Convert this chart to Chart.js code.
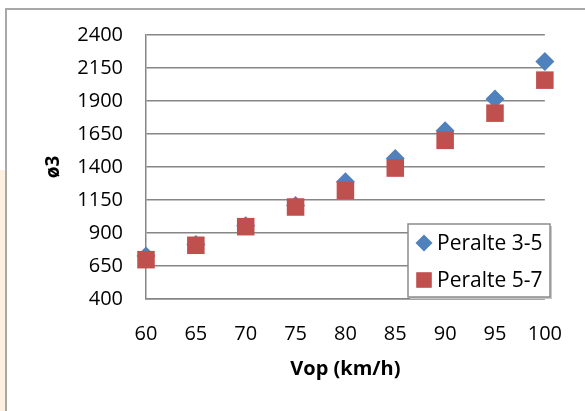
<!DOCTYPE html>
<html>
<head>
<meta charset="utf-8">
<script src="https://cdn.jsdelivr.net/npm/chart.js@4/dist/chart.umd.min.js"></script>
<style>
  html, body { margin: 0; padding: 0; background: #ffffff; }
  #wrap { width: 585px; height: 411px; position: relative; }
</style>
</head>
<body>
<div id="wrap"><canvas id="c" width="585" height="411"></canvas></div>
<script>
// Operating speed (km/h) and the two superelevation series
const speeds = [60, 65, 70, 75, 80, 85, 90, 95, 100];
const peralte35 = [726, 813, 955, 1108, 1288, 1464, 1675, 1915, 2200];
const peralte57 = [698, 807, 948, 1097, 1222, 1392, 1602, 1808, 2058];
const seriesNames = ['Peralte 3-5', 'Peralte 5-7'];
const xTitle = 'Vop (km/h)';
const yTitle = 'ø3';

const BLUE = '#4F81BD';
const RED = '#C0504D';
const GRID = '#868686';
const FONT = "'Open Sans', 'Liberation Sans', sans-serif";

const toPoints = (vals) => speeds.map((s, i) => ({ x: s, y: vals[i] }));

// Sheet-like frame around the chart object
const framePlugin = {
  id: 'frame',
  beforeDraw(chart) {
    const ctx = chart.ctx;
    ctx.save();
    ctx.fillStyle = '#ffffff';
    ctx.fillRect(0, 0, chart.width, chart.height);
    ctx.fillStyle = '#fdf1e1';
    ctx.fillRect(0, 170, 5, chart.height - 170);
    ctx.strokeStyle = '#a8a8a8';
    ctx.lineWidth = 2;
    ctx.beginPath();
    ctx.moveTo(6, chart.height);
    ctx.lineTo(6, 9);
    ctx.lineTo(chart.width, 9);
    ctx.stroke();
    ctx.restore();
  }
};

// Boxed legend sitting over the lower right of the plot
const boxLegend = {
  id: 'boxLegend',
  afterDraw(chart) {
    const ctx = chart.ctx;
    const x0 = 408, y0 = 224, w = 142, h = 73;
    ctx.save();
    // soft drop shadow on the right and bottom edges
    ctx.fillStyle = '#c8c8c8';
    ctx.fillRect(x0 + 2, y0 + h, w, 2);
    ctx.fillRect(x0 + w, y0 + 2, 2, h);
    ctx.fillStyle = '#ffffff';
    ctx.fillRect(x0, y0, w, h);
    ctx.strokeStyle = '#8c8c8c';
    ctx.lineWidth = 1.5;
    ctx.strokeRect(x0, y0, w, h);
    ctx.font = '21px ' + FONT;
    ctx.textBaseline = 'middle';
    ctx.textAlign = 'left';
    chart.data.datasets.forEach((ds, i) => {
      const cy = y0 + 19 + i * 37;
      const cx = x0 + 16;
      ctx.fillStyle = ds.backgroundColor;
      ctx.beginPath();
      if (ds.pointStyle === 'rectRot') {
        const r = 8.5;
        ctx.moveTo(cx - r, cy);
        ctx.lineTo(cx, cy - r);
        ctx.lineTo(cx + r, cy);
        ctx.lineTo(cx, cy + r);
        ctx.closePath();
      } else {
        ctx.rect(cx - 7.8, cy - 7.8, 15.6, 15.6);
      }
      ctx.fill();
      ctx.fillStyle = '#000000';
      ctx.fillText(ds.label, x0 + 29, cy + 1);
    });
    ctx.restore();
  }
};

new Chart(document.getElementById('c'), {
  type: 'scatter',
  data: {
    datasets: [
      {
        label: seriesNames[0],
        data: toPoints(peralte35),
        pointStyle: 'rectRot',
        pointRadius: 9.5,
        backgroundColor: BLUE,
        borderColor: BLUE,
        borderWidth: 0,
        clip: false,
        order: 1
      },
      {
        label: seriesNames[1],
        data: toPoints(peralte57),
        pointStyle: 'rect',
        pointRadius: 12.4,
        backgroundColor: RED,
        borderColor: RED,
        borderWidth: 0,
        clip: false,
        order: 0
      }
    ]
  },
  options: {
    responsive: false,
    animation: false,
    events: [],
    layout: { padding: { left: 40, top: 35, right: 36, bottom: 30 } },
    plugins: {
      legend: { display: false },
      tooltip: { enabled: false }
    },
    scales: {
      x: {
        type: 'linear',
        min: 60,
        max: 100,
        ticks: {
          stepSize: 5,
          padding: 23,
          color: '#000000',
          font: { family: FONT, size: 20 },
          callback: (v) => String(v)
        },
        grid: { display: false, drawTicks: false },
        border: { display: true, color: GRID, width: 1.5 },
        title: {
          display: true,
          text: xTitle,
          color: '#000000',
          font: { family: FONT, size: 20, weight: 'bold' },
          padding: { top: 0, bottom: 0 }
        },
        afterFit(scale) { scale.height = 82; }
      },
      y: {
        min: 400,
        max: 2400,
        ticks: {
          stepSize: 250,
          padding: 23,
          color: '#000000',
          font: { family: FONT, size: 20 },
          callback: (v) => String(v)
        },
        grid: { color: GRID, lineWidth: 1.5, drawTicks: false },
        border: { display: true, color: GRID, width: 1.5 },
        title: {
          display: true,
          text: yTitle,
          color: '#000000',
          font: { family: FONT, size: 19, weight: 'bold' },
          padding: { top: 2, bottom: 0 }
        },
        afterFit(scale) { scale.width = 106; }
      }
    }
  },
  plugins: [framePlugin, boxLegend]
});
</script>
</body>
</html>
